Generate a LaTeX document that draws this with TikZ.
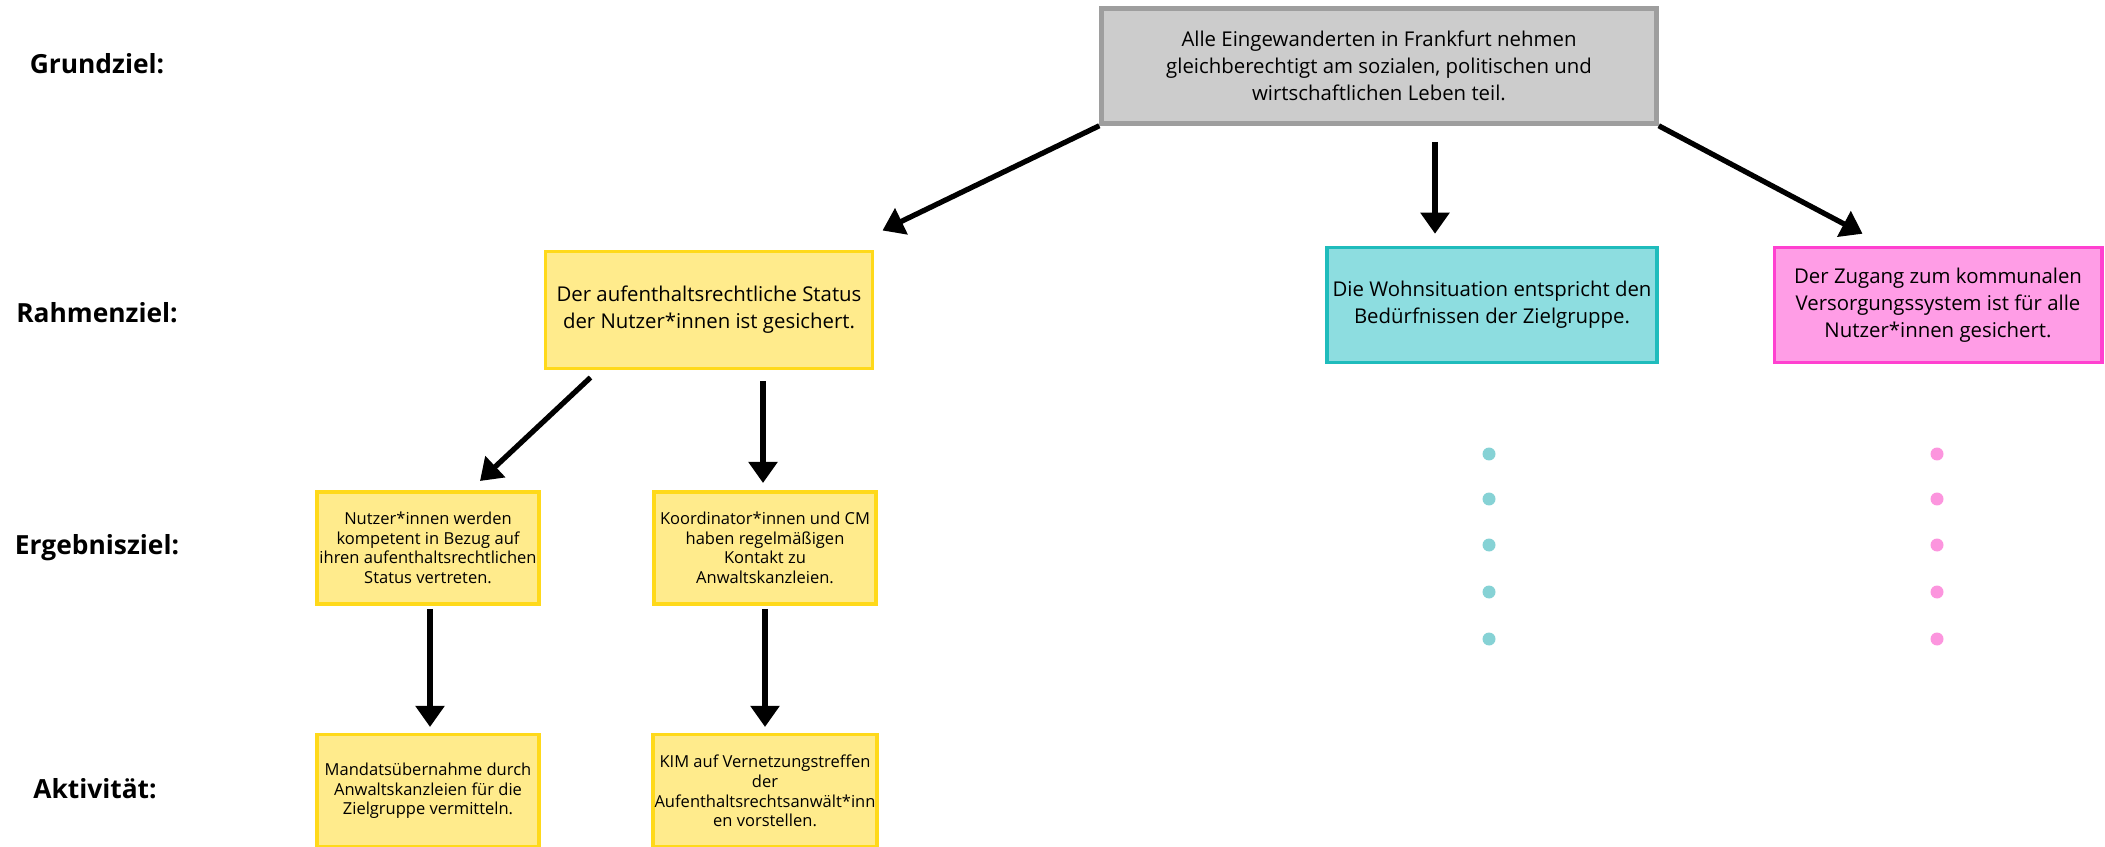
\documentclass[tikz,border=0pt]{standalone}
\usepackage{fontspec}
\setmainfont{Open Sans}
\usetikzlibrary{arrows.meta, positioning, calc}

\definecolor{grundfill}{HTML}{CCCCCC}
\definecolor{grundrand}{HTML}{9E9E9E}
\definecolor{gelbfill}{HTML}{FFEB8C}
\definecolor{gelbrand}{HTML}{FFD91A}
\definecolor{tuerkisfill}{HTML}{8DDDE0}
\definecolor{tuerkisrand}{HTML}{1FBCBC}
\definecolor{rosafill}{HTML}{FF9DE6}
\definecolor{rosarand}{HTML}{FF40D0}

\begin{document}
\begin{tikzpicture}[
    x=0.02cm, y=-0.02cm,
    >={Triangle[length=12pt, width=16pt]},
    ziel/.style={draw, line width=2pt, align=center, inner sep=1pt,
        font=\fontsize{11.6}{15.3}\selectfont},
    klein/.style={ziel, minimum width=4.45cm, minimum height=2.25cm,
        font=\fontsize{9.4}{11.2}\selectfont, fill=gelbfill, draw=gelbrand},
    ebene/.style={font=\fontsize{15}{18}\selectfont\bfseries},
    pfeil/.style={->, line width=3pt}
  ]
  \useasboundingbox (0,0) rectangle (2105,847);

  % Ebenen
  \node[ebene] (lgrund) at (97,64) {Grundziel:};
  \node[ebene] (lrahmen) at (97,313) {Rahmenziel:};
  \node[ebene] (lerg) at (97,548) {Ergebnisziel:};
  \node[ebene] (lakt) at (95,789) {Aktivität:};

  % Grundziel und Rahmenziele
  \node[ziel, fill=grundfill, draw=grundrand, line width=2.6pt,
    minimum width=11.1cm, minimum height=2.3cm] (grund) at (1379,66)
    {Alle Eingewanderten in Frankfurt nehmen\\
     gleichberechtigt am sozialen, politischen und\\
     wirtschaftlichen Leben teil.};
  \node[ziel, fill=gelbfill, draw=gelbrand, minimum width=6.55cm,
    minimum height=2.35cm] (rahmen1) at (709,310)
    {Der aufenthaltsrechtliche Status\\der Nutzer*innen ist gesichert.};
  \node[ziel, fill=tuerkisfill, draw=tuerkisrand, minimum width=6.6cm,
    minimum height=2.3cm] (rahmen2) at (1492,305)
    {Die Wohnsituation entspricht den\\Bedürfnissen der Zielgruppe.};
  \node[ziel, fill=rosafill, draw=rosarand, minimum width=6.55cm,
    minimum height=2.3cm] (rahmen3) at (1938,305)
    {Der Zugang zum kommunalen\\Versorgungssystem ist für alle\\
     Nutzer*innen gesichert.};

  % Ergebnisziele und Aktivitaeten
  \node[klein] (erg1) at (428,548)
    {Nutzer*innen werden\\kompetent in Bezug auf\\
     ihren aufenthaltsrechtlichen\\Status vertreten.};
  \node[klein] (erg2) at (765,548)
    {Koordinator*innen und CM\\haben regelmäßigen\\Kontakt zu\\
     Anwaltskanzleien.};
  \node[klein, below=2.54cm of erg1] (akt1)
    {Mandatsübernahme durch\\Anwaltskanzleien für die\\
     Zielgruppe vermitteln.};
  \node[klein, below=2.54cm of erg2] (akt2)
    {KIM auf Vernetzungstreffen\\der\\
     Aufenthaltsrechtsanwält*inn\\en vorstellen.};

  \draw[pfeil] (grund.south west) -- ($(rahmen1.north east)+(8,-19)$);
  \draw[pfeil] ($(grund.south)+(56,16)$) --
    ($(grund.south |- rahmen2.north)+(56,-12)$);
  \draw[pfeil] (grund.south east) -- ($(rahmen3.north west)+(90,-12)$);
  \draw[pfeil] ($(rahmen1.south west)+(47,7)$) --
    ($(erg1.north east)+(-61,-9)$);
  \draw[pfeil] ($(rahmen1.south -| erg2.north)+(-2,11)$) --
    ($(erg2.north)+(-2,-7)$);
  \draw[pfeil] ($(erg1.south)+(2,3)$) -- ($(akt1.north)+(2,-6)$);
  \draw[pfeil] ($(erg2.south)+(0,3)$) -- ($(akt2.north)+(0,-6)$);

  % weitere Ergebnisziele angedeutet
  \foreach \y in {454,499,545,592,639} {
    \fill[tuerkisfill!95!black] (1489,\y) circle[radius=0.13cm];
    \fill[rosafill!95!purple] (1937,\y) circle[radius=0.13cm];
  }
\end{tikzpicture}
\end{document}
